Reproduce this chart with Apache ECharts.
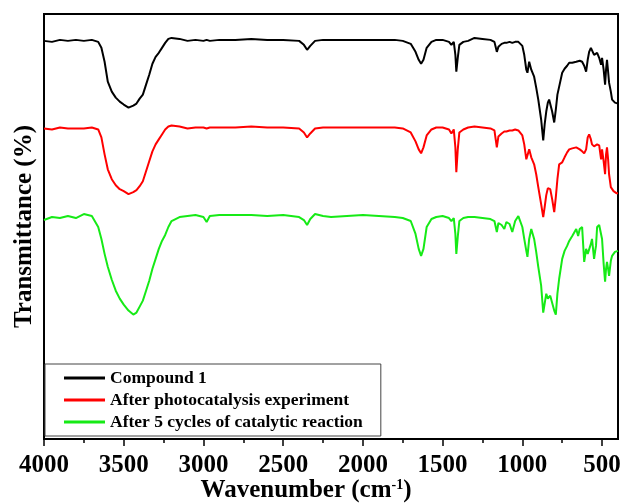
<!DOCTYPE html>
<html>
<head>
<meta charset="utf-8">
<script src="https://cdn.jsdelivr.net/npm/echarts@6/dist/echarts.min.js"></script>
<style>
html,body{margin:0;padding:0;background:#fff;}
#chart{width:624px;height:503px;}
</style>
</head>
<body>
<div id="chart"></div>
<script>
// Wavenumber grid (cm-1)
const wavenumbers = [4000,3950,3900,3850,3800,3750,3700,3660,3640,3620,3600,3575,3550,3525,3500,3470,3440,3420,3400,3380,3360,3340,3320,3300,3280,3260,3240,3220,3200,3150,3100,3050,3000,2980,2960,2900,2800,2700,2600,2500,2400,2370,2350,2330,2300,2250,2200,2100,2000,1900,1800,1750,1700,1670,1650,1635,1620,1600,1570,1540,1500,1460,1445,1430,1420,1414,1405,1395,1370,1340,1300,1250,1200,1175,1160,1150,1130,1113,1100,1080,1063,1045,1025,1000,988,975,968,957,944,926,913,900,882,869,860,850,840,832,825,813,800,790,780,769,750,735,719,706,687,662,650,640,625,612,600,590,581,570,563,550,543,538,531,518,506,500,490,481,475,469,462,456,445,437,428,419,410,400];

// Transmittance, arbitrary units (offset traces)
const compound1 = [400,399,401,400,401,400,401,399,393,379,359,349,343,339,336,333,335,337,342,346,356,366,377,384,388,393,398,402,403,402,400,401,400,401,400,401,401,402,401,401,400,396,391,395,400,401,401,401,401,401,401,400,397,389,381,377,381,393,399,401,401,399,396,399,386,369,383,396,399,400,403,402,401,399,389,394,397,398,398,399,398,399,399,395,386,371,368,379,371,364,353,341,321,300,316,329,338,341,340,329,318,331,346,354,368,372,375,378,378,379,379,380,379,375,369,381,389,393,391,386,384,386,388,383,376,383,371,356,371,381,369,358,349,341,339,338,337,337];

const afterPhoto = [312,311,313,312,312,312,313,311,303,286,271,261,255,251,249,246,248,250,254,259,269,279,289,296,301,306,311,314,315,314,312,313,313,312,313,313,313,314,313,313,312,308,303,307,312,313,313,313,313,313,313,312,308,299,291,287,293,305,311,313,313,311,307,311,293,268,291,308,311,313,314,313,312,310,293,304,307,309,309,310,310,311,310,305,296,281,279,291,283,276,266,253,236,223,233,245,252,253,251,241,228,243,261,276,278,283,288,291,292,293,293,291,289,287,291,303,306,301,296,294,293,294,296,295,281,291,279,266,286,293,281,266,253,251,249,248,247,247];

const after5Cycles = [220,223,222,224,222,226,224,213,201,186,173,160,149,141,135,129,125,127,133,139,149,159,171,181,191,199,205,213,219,223,224,225,223,218,224,225,225,225,224,225,223,220,215,221,226,224,223,224,225,224,223,222,219,206,191,184,191,213,221,223,224,222,219,222,206,186,203,219,222,223,223,222,221,219,208,217,215,211,218,216,208,219,224,213,201,189,183,201,211,201,188,173,154,127,136,146,141,141,144,143,129,125,146,161,181,189,194,199,204,211,204,211,213,178,191,186,184,196,201,181,189,194,213,215,215,201,176,158,171,178,171,164,179,184,186,188,189,189];

const seriesNames = ['Compound 1','After photocatalysis experiment','After 5 cycles of catalytic reaction'];
const seriesColors = ['#000000','#ff0000','#16ea16'];
const majorTicks = [4000,3500,3000,2500,2000,1500,1000,500];
const minorTicks = [3750,3250,2750,2250,1750,1250,750];

const serif = '"Liberation Serif","Times New Roman",serif';
const valuesList = [compound1, afterPhoto, after5Cycles];

const chart = echarts.init(document.getElementById('chart'), null, {renderer:'canvas'});
chart.setOption({
  animation:false,
  backgroundColor:'#fff',
  grid:{left:44,right:6,top:14,bottom:64,containLabel:false,outerBoundsMode:'none',show:true,borderColor:'#000',borderWidth:2,backgroundColor:'transparent'},
  legend:{
    left:45, top:364,
    orient:'vertical',
    icon:'rect', itemWidth:41, itemHeight:3, itemGap:4,
    padding:[5,18,5,19],
    borderColor:'#444', borderWidth:1, backgroundColor:'#fff',
    textStyle:{fontFamily:serif,fontWeight:'bold',fontSize:17.5,color:'#000',lineHeight:18},
    data:seriesNames
  },
  xAxis:[{
    type:'value', min:400, max:4000, inverse:true,
    axisLine:{show:false},
    splitLine:{show:false},
    axisTick:{show:true, customValues:majorTicks, length:7, lineStyle:{color:'#000',width:1.5}},
    axisLabel:{show:true, customValues:majorTicks, margin:14, formatter:(v)=>String(v), fontFamily:serif, fontWeight:'bold', fontSize:25, color:'#000'},
    name:'{a|Wavenumber (cm}{s|-1}{a|)}',
    nameLocation:'middle', nameGap:39, nameMoveOverlap:false,
    nameTextStyle:{padding:[0,50,0,0], rich:{
      a:{fontFamily:serif,fontWeight:'bold',fontSize:25,color:'#000'},
      s:{fontFamily:serif,fontWeight:'bold',fontSize:14,color:'#000',verticalAlign:'top',padding:[0,0,12,0]}
    }}
  },{
    type:'value', min:400, max:4000, inverse:true, position:'bottom',
    axisLine:{show:false}, splitLine:{show:false},
    axisTick:{show:true, customValues:minorTicks, length:4, lineStyle:{color:'#000',width:1.5}},
    axisLabel:{show:false}
  }],
  yAxis:{
    type:'value', min:0, max:427,
    axisLine:{show:false}, axisTick:{show:false}, axisLabel:{show:false}, splitLine:{show:false},
    name:'Transmittance (%)', nameLocation:'middle', nameGap:7,
    nameTextStyle:{fontFamily:serif,fontWeight:'bold',fontSize:25,color:'#000'}
  },
  series: valuesList.map((vals, k) => ({
    name: seriesNames[k],
    type:'line',
    xAxisIndex:0,
    showSymbol:false, symbol:'none',
    color: seriesColors[k],
    lineStyle:{color:seriesColors[k], width:2},
    data: wavenumbers.map((w, i) => [w, vals[i]])
  }))
});
</script>
</body>
</html>
